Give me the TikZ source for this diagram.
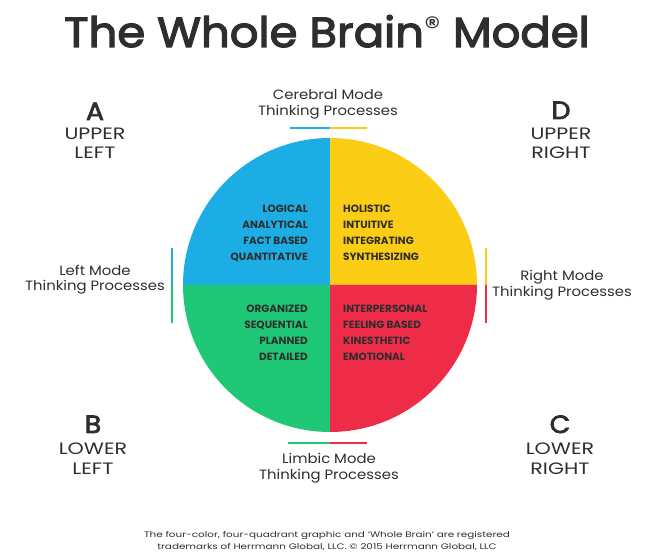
\documentclass[tikz,border=0pt]{standalone}
\usepackage{fontspec}
\setmainfont{Poppins}
\newfontfamily\titlefont{Poppins}[FakeBold=3,FakeStretch=1.07]
\newfontfamily\widefont{Poppins}[FakeStretch=1.25]
\newfontfamily\modefont{Poppins}[FakeStretch=1.1]
\newfontfamily\notefont{Poppins}[FakeStretch=1.3]
\usetikzlibrary{positioning}
\definecolor{qblue}{HTML}{1CADE4}
\definecolor{qyellow}{HTML}{FBCD14}
\definecolor{qgreen}{HTML}{1FC876}
\definecolor{qred}{HTML}{EE2C48}
\definecolor{ink}{HTML}{2E2E2E}
\tikzset{letter node/.style={inner sep=0pt,text=ink,anchor=base,font=\titlefont\fontsize{25}{25}\selectfont},
  corner node/.style={inner sep=0pt,text=ink,anchor=base,font=\widefont\fontsize{16.5}{16}\selectfont},
  mode node/.style={inner sep=0pt,text=ink,anchor=base,font=\modefont\fontsize{13.5}{13}\selectfont},
  trait node/.style={inner sep=0pt,text=ink,font=\bfseries\fontsize{10.5}{16}\selectfont},
  mode bar/.style={line width=2pt},}

\begin{document}
\begin{tikzpicture}[x=1pt,y=1pt]
    \useasboundingbox (0,0) rectangle (654,560);
    \node[inner sep=0pt,anchor=base,text=ink,font=\titlefont\fontsize{42}{42}\selectfont] (title) at (327,513) {The Whole Brain\textsuperscript{\modefont ®} Model};

    % four quadrants
    \coordinate (c) at (330,275);
    \fill[qblue] (c) -- +(180:147pt) arc[start angle=180,end angle=90,radius=147pt] -- cycle;
    \fill[qyellow] (c) -- +(90:147pt) arc[start angle=90,end angle=0,radius=147pt] -- cycle;
    \fill[qgreen] (c) -- +(270:147pt) arc[start angle=270,end angle=180,radius=147pt] -- cycle;
    \fill[qred] (c) -- +(0:147pt) arc[start angle=0,end angle=-90,radius=147pt] -- cycle;

    \node[trait node,align=right,anchor=north east] (a) at (308,355.5) {LOGICAL\\ANALYTICAL\\FACT BASED\\QUANTITATIVE};
    \node[trait node,align=left,anchor=north west] (d) at (343,355.5) {HOLISTIC\\INTUITIVE\\INTEGRATING\\SYNTHESIZING};
    \node[trait node,align=right,anchor=north east] (b) at (308,255.5) {ORGANIZED\\SEQUENTIAL\\PLANNED\\DETAILED};
    \node[trait node,align=left,anchor=north west] (cq) at (343,255.5) {INTERPERSONAL\\FEELING BASED\\KINESTHETIC\\EMOTIONAL};

    % corner letters
    \node[letter node] (A) at (95,440) {A};
    \node[corner node] (A1) at (95,420) {UPPER};
    \node[corner node] (A2) at (95,401) {LEFT};
    \node[letter node] (D) at (561,441) {D};
    \node[corner node] (D1) at (561,420) {UPPER};
    \node[corner node] (D2) at (561,401) {RIGHT};
    \node[letter node] (B) at (93,127) {B};
    \node[corner node] (B1) at (93,105) {LOWER};
    \node[corner node] (B2) at (93,85) {LEFT};
    \node[letter node] (C) at (560,127) {C};
    \node[corner node] (C1) at (560,105) {LOWER};
    \node[corner node] (C2) at (560,85) {RIGHT};

    % thinking modes
    \node[mode node] (top1) at (328,460) {Cerebral Mode};
    \node[mode node] (top2) at (328,444) {Thinking Processes};
    \node[mode node] (bot1) at (329,96) {Limbic Mode};
    \node[mode node] (bot2) at (329,80) {Thinking Processes};
    \node[mode node] (lft1) at (95,284) {Left Mode};
    \node[mode node] (lft2) at (95,269) {Thinking Processes};
    \node[mode node] (rgt1) at (562,279) {Right Mode};
    \node[mode node] (rgt2) at (562,263) {Thinking Processes};

    \coordinate (tb1) at (290,432); \coordinate (tb2) at (330,432); \coordinate (tb3) at (367,432);
    \coordinate (bb1) at (288,117); \coordinate (bb2) at (330,117); \coordinate (bb3) at (367,117);
    \coordinate (lb1) at (172,312); \coordinate (lb2) at (172,275); \coordinate (lb3) at (172,237);
    \coordinate (rb1) at (486,312); \coordinate (rb2) at (486,275); \coordinate (rb3) at (486,237);
    \draw[mode bar,qblue] (tb1) -- (tb2);
    \draw[mode bar,qyellow] (tb2) -- (tb3);
    \draw[mode bar,qgreen] (bb1) -- (bb2);
    \draw[mode bar,qred] (bb2) -- (bb3);
    \draw[mode bar,qblue] (lb1) -- (lb2);
    \draw[mode bar,qgreen] (lb2) -- (lb3);
    \draw[mode bar,qyellow] (rb1) -- (rb2);
    \draw[mode bar,qred] (rb2) -- (rb3);

    \node[inner sep=0pt,align=center,text=ink,font=\notefont\fontsize{8}{12}\selectfont] (note) at (327,19) {The four-color, four-quadrant graphic and ‘Whole Brain’ are registered\\trademarks of Herrmann Global, LLC. © 2015 Herrmann Global, LLC};
\end{tikzpicture}
\end{document}
